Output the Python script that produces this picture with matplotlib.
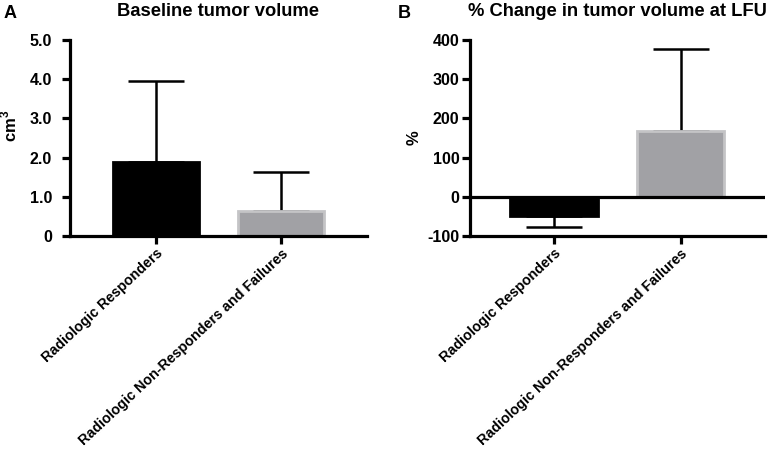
import matplotlib
matplotlib.use("Agg")
import matplotlib.pyplot as plt

plt.rcParams["font.family"] = ["Liberation Sans", "DejaVu Sans"]
plt.rcParams["font.weight"] = "bold"
plt.rcParams["axes.unicode_minus"] = False

groups = ["Radiologic Responders", "Radiologic Non-Responders and Failures"]
baseline_mean = [1.89, 0.64]
baseline_sd = [2.06, 0.99]
change_mean = [-48, 168]
change_sd = [30, 208]
bar_colors = ["#000000", "#a1a1a5"]
edge_colors = ["#000000", "#c4c4c6"]

fig = plt.figure(figsize=(7.69, 4.58), dpi=100)
ax1 = fig.add_axes([0.091, 0.4847, 0.386, 0.428])
ax2 = fig.add_axes([0.611, 0.4847, 0.384, 0.428])


def style_axis(ax, ypad):
    for s in ["top", "right"]:
        ax.spines[s].set_visible(False)
    for s in ["left", "bottom"]:
        ax.spines[s].set_linewidth(2.3)
    ax.tick_params(axis="y", width=2.3, length=6, labelsize=11.5, pad=ypad)
    ax.tick_params(axis="x", width=2.3, length=6, labelsize=10.3, pad=1.5)
    for lab in ax.get_yticklabels():
        lab.set_fontweight("bold")


x = [0, 1]

# panel A
for i in range(2):
    ax1.bar(x[i], baseline_mean[i], width=0.685, color=bar_colors[i],
            edgecolor=edge_colors[i], linewidth=2, zorder=2)
    ax1.errorbar(x[i], baseline_mean[i], yerr=[[0], [baseline_sd[i]]],
                 color="black", elinewidth=1.8, capsize=20, capthick=1.8, zorder=1)
ax1.set_xlim(-0.685, 1.68)
ax1.set_ylim(0, 5.0)
ax1.set_yticks([0, 1, 2, 3, 4, 5])
ax1.set_yticklabels(["0", "1.0", "2.0", "3.0", "4.0", "5.0"])
ax1.set_xticks(x)
ax1.set_xticklabels(groups, rotation=43, ha="right", rotation_mode="anchor",
                    fontweight="bold")
ax1.set_ylabel("cm$^\\mathregular{3}$", fontsize=12, fontweight="bold")
ax1.yaxis.set_label_coords(-0.17, 0.56)
ax1.set_title("Baseline tumor volume", fontsize=13.2, fontweight="bold", pad=17)
style_axis(ax1, 7)

# panel B
for i in range(2):
    ax2.bar(x[i], change_mean[i], width=0.69, color=bar_colors[i],
            edgecolor=edge_colors[i], linewidth=2, zorder=2)
    sign_err = [[change_sd[i]], [0]] if change_mean[i] < 0 else [[0], [change_sd[i]]]
    ax2.errorbar(x[i], change_mean[i], yerr=sign_err,
                 color="black", elinewidth=1.8, capsize=20, capthick=1.8, zorder=1)
ax2.axhline(0, color="black", linewidth=2.3, zorder=3)
ax2.set_xlim(-0.664, 1.668)
ax2.set_ylim(-100, 400)
ax2.set_yticks([-100, 0, 100, 200, 300, 400])
ax2.set_xticks(x)
ax2.set_xticklabels(groups, rotation=43, ha="right", rotation_mode="anchor",
                    fontweight="bold")
ax2.set_ylabel("%", fontsize=12, fontweight="bold")
ax2.yaxis.set_label_coords(-0.165, 0.5)
ax2.set_title("% Change in tumor volume at LFU", fontsize=13.2, fontweight="bold", pad=17)
style_axis(ax2, 1.5)

fig.text(0.004, 0.99, "A", fontsize=13, fontweight="bold", va="top")
fig.text(0.517, 0.99, "B", fontsize=13, fontweight="bold", va="top")

fig.savefig("out.png", dpi=100)
